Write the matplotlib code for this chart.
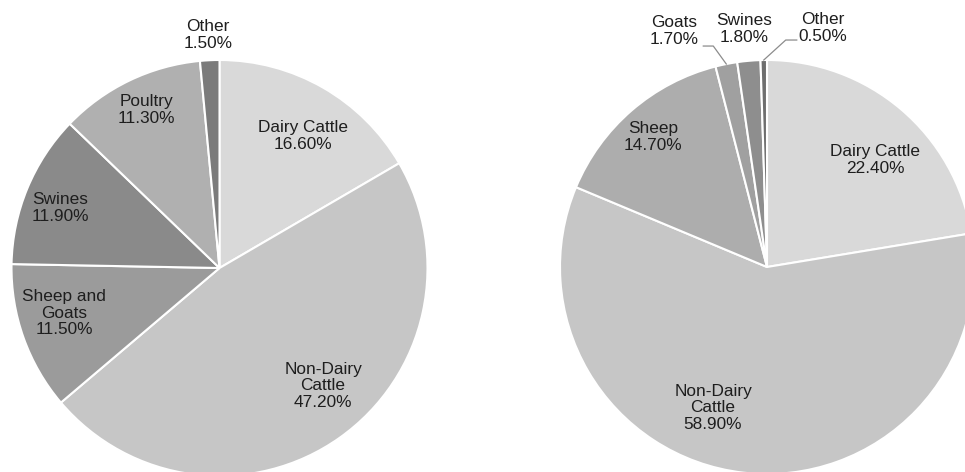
import matplotlib
matplotlib.use('Agg')
import matplotlib.pyplot as plt
import numpy as np

plt.rcParams['font.family'] = ['Liberation Sans', 'DejaVu Sans']

# left pie
left_labels = ['Dairy Cattle', 'Non-Dairy\nCattle', 'Sheep and\nGoats', 'Swines', 'Poultry', 'Other']
left_values = [16.6, 47.2, 11.5, 11.9, 11.3, 1.5]
left_colors = ['#d9d9d9', '#c6c6c6', '#9b9b9b', '#8a8a8a', '#b0b0b0', '#7b7b7b']

# right pie
right_labels = ['Dairy Cattle', 'Non-Dairy\nCattle', 'Sheep', 'Goats', 'Swines', 'Other']
right_values = [22.4, 58.9, 14.7, 1.7, 1.8, 0.5]
right_colors = ['#d9d9d9', '#c6c6c6', '#adadad', '#a0a0a0', '#8e8e8e', '#6e6e6e']

W, H = 965, 472

# label centres in pixels (y measured from the top)
left_text_pos = [(303, 136), (323, 386), (64, 313), (60, 208), (146, 110), (208, 35)]
right_text_pos = [(875, 160), (713, 408), (653, 137), (674, 31), (744, 29), (823, 28)]
# leader lines: wedge index -> (elbow dx, elbow dy, horizontal run)
right_leaders = {3: (-13, 18, -10), 5: (22, 20, 11)}

fig = plt.figure(figsize=(9.65, 4.72), dpi=100)
ax = fig.add_axes([0, 0, 1, 1])


def draw(values, labels, colors, center, radius, text_pos, leaders):
    wedges, _ = ax.pie(values, colors=colors, startangle=90, counterclock=False,
                       center=center, radius=radius,
                       wedgeprops=dict(edgecolor='white', linewidth=1.5))
    # text labels: name + percentage
    for v, lab, (px, py) in zip(values, labels, text_pos):
        ax.text(px, H - py, f'{lab}\n{v:.2f}%', ha='center', va='center',
                fontsize=12.4, color='#1e1e1e', linespacing=1.1)
    # leader lines for the thin slices
    for i, (dx, dy, hx) in leaders.items():
        w = wedges[i]
        mid = np.deg2rad((w.theta1 + w.theta2) / 2)
        x0 = center[0] + radius * np.cos(mid)
        y0 = center[1] + radius * np.sin(mid)
        ax.plot([x0, x0 + dx, x0 + dx + hx], [y0, y0 + dy, y0 + dy],
                color='#8c8c8c', lw=0.9)


draw(left_values, left_labels, left_colors, (219.5, H - 268), 208, left_text_pos, {})
draw(right_values, right_labels, right_colors, (767, H - 267), 207, right_text_pos, right_leaders)

ax.set_xlim(0, W)
ax.set_ylim(0, H)
ax.axis('off')

fig.savefig('out.png', dpi=100)
